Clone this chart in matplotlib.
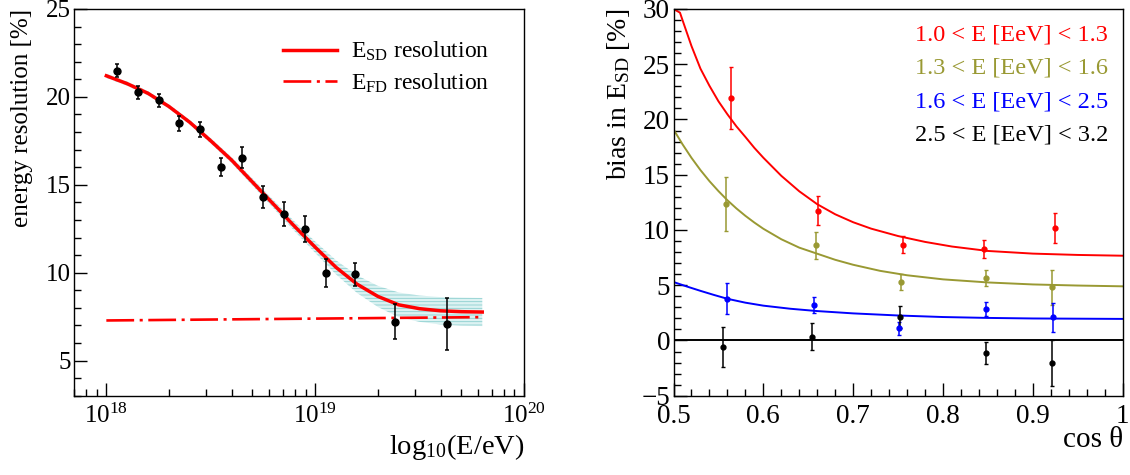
import numpy as np
import matplotlib
matplotlib.use("Agg")
import matplotlib.pyplot as plt
import matplotlib.ticker as ticker

plt.rcParams['font.family'] = 'Liberation Serif'
plt.rcParams['mathtext.fontset'] = 'custom'
plt.rcParams['mathtext.rm'] = 'Liberation Serif'
plt.rcParams['mathtext.it'] = 'Liberation Serif:italic'
plt.rcParams['mathtext.bf'] = 'Liberation Serif:bold'
plt.rcParams['hatch.linewidth'] = 0.6
plt.rcParams['lines.scale_dashes'] = False

# --- panneau gauche : résolution en énergie ---
log_e_pts = [18.05, 18.15, 18.25, 18.35, 18.45, 18.55, 18.65, 18.75, 18.85, 18.95, 19.05, 19.19, 19.38, 19.63]
res_pts = [21.5, 20.25, 19.8, 18.5, 18.15, 16.0, 16.55, 14.3, 13.35, 12.5, 10.0, 9.9, 7.2, 7.1]
res_err = [0.38, 0.36, 0.38, 0.43, 0.44, 0.5, 0.58, 0.63, 0.68, 0.75, 0.8, 0.66, 1.0, 1.48]

log_e_fit = [18.0, 18.1, 18.2, 18.3, 18.4, 18.5, 18.6, 18.7, 18.8, 18.9,
             19.0, 19.1, 19.2, 19.3, 19.4, 19.5, 19.6, 19.7, 19.8]
sd_fit = [21.2, 20.75, 20.2, 19.45, 18.55, 17.5, 16.4, 15.15, 13.9, 12.65,
          11.45, 10.3, 9.35, 8.65, 8.17, 7.95, 7.83, 7.78, 7.76]
sd_band_lo = [21.08, 20.63, 20.08, 19.33, 18.42, 17.35, 16.23, 14.95, 13.67, 12.38,
              11.13, 9.9, 8.85, 8.05, 7.47, 7.2, 7.05, 6.98, 6.96]
sd_band_hi = [21.32, 20.87, 20.32, 19.57, 18.68, 17.65, 16.57, 15.35, 14.13, 12.92,
              11.77, 10.7, 9.85, 9.25, 8.87, 8.7, 8.61, 8.58, 8.56]
log_e_fd = [18.0, 19.8]
fd_fit = [7.28, 7.47]

# --- panneau droit : biais en fonction de cos theta ---
bins = ["1.0 < E [EeV] < 1.3", "1.3 < E [EeV] < 1.6", "1.6 < E [EeV] < 2.5", "2.5 < E [EeV] < 3.2"]
colors = ['#ff0000', '#999933', '#0000ff', '#000000']

cos_red = [0.564, 0.661, 0.7555, 0.846, 0.9245]
bias_red = [21.97, 11.75, 8.67, 8.25, 10.18]
err_red = [2.8, 1.28, 0.77, 0.8, 1.4]
cos_olive = [0.558, 0.659, 0.7533, 0.8477, 0.921]
bias_olive = [12.35, 8.61, 5.29, 5.66, 4.81]
err_olive = [2.4, 1.2, 0.7, 0.75, 1.6]
cos_blue = [0.559, 0.656, 0.7515, 0.8477, 0.9227]
bias_blue = [3.78, 3.21, 1.1, 2.82, 2.1]
err_blue = [1.4, 0.75, 0.6, 0.65, 1.3]
cos_black = [0.5553, 0.6545, 0.7526, 0.8477, 0.9209]
bias_black = [-0.56, 0.35, 2.1, -1.16, -2.06]
err_black = [1.8, 1.2, 1.0, 1.0, 2.1]

fit_cos_red = [0.5, 0.5072, 0.51, 0.52, 0.53, 0.54, 0.55, 0.56, 0.57, 0.58, 0.59, 0.60,
               0.62, 0.64, 0.66, 0.68, 0.70, 0.72, 0.75, 0.78, 0.81, 0.85, 0.90, 0.95, 1.0]
fit_red = [30.0, 29.67, 29.0, 26.65, 24.6, 23.05, 21.65, 20.47, 19.38, 18.42, 17.43, 16.54,
           14.9, 13.5, 12.33, 11.42, 10.7, 10.12, 9.45, 8.92, 8.5, 8.1, 7.86, 7.74, 7.67]
fit_cos_olive = [0.5, 0.51, 0.52, 0.53, 0.54, 0.55, 0.56, 0.57, 0.58, 0.59, 0.60,
                 0.62, 0.64, 0.66, 0.68, 0.70, 0.73, 0.76, 0.80, 0.85, 0.90, 0.95, 1.0]
fit_olive = [19.1, 17.76, 16.53, 15.42, 14.42, 13.52, 12.69, 11.95, 11.28, 10.67, 10.11,
             9.16, 8.4, 7.85, 7.3, 6.85, 6.3, 5.9, 5.53, 5.25, 5.07, 4.97, 4.9]
fit_cos_blue = [0.5, 0.515, 0.53, 0.545, 0.56, 0.58, 0.60, 0.63, 0.66, 0.70, 0.75, 0.80, 0.85, 0.90, 1.0]
fit_blue = [5.29, 4.88, 4.49, 4.12, 3.77, 3.42, 3.15, 2.87, 2.66, 2.45, 2.26, 2.12, 2.04, 1.99, 1.95]
fit_cos_black = [0.5, 1.0]
fit_black = [0.0, 0.0]

fig = plt.figure(figsize=(11.3, 4.75), dpi=100)
ax1 = fig.add_axes([0.06549, 0.16695, 0.39823, 0.81411])
ax2 = fig.add_axes([0.59602, 0.16695, 0.39752, 0.81411])

def style_axis(ax, size):
    ax.tick_params(which='both', direction='in', top=False, right=False, labelsize=size, width=1)
    ax.tick_params(which='major', length=9.5)
    ax.tick_params(which='minor', length=5)
    ax.tick_params(axis='y', pad=2.5)
    ax.tick_params(axis='x', pad=6)
    for s in ax.spines.values():
        s.set_linewidth(1)

# gauche
e_pts = np.power(10.0, log_e_pts)
e_fit = np.power(10.0, log_e_fit)
e_fd = np.power(10.0, log_e_fd)
ax1.fill_between(e_fit, sd_band_lo, sd_band_hi, facecolor='#dcf2f2', edgecolor='#8ccfcf',
                 hatch='-----', linewidth=0, zorder=1)
ax1.plot(e_fd, fd_fit, color='#ff0000', lw=1.9, dashes=(20, 4, 2.2, 4), zorder=2,
         label='E$_{\\mathrm{FD}}$ resolution')
ax1.plot(e_fit, sd_fit, color='#ff0000', lw=2.5, zorder=3, label='E$_{\\mathrm{SD}}$ resolution')
ax1.errorbar(e_pts, res_pts, yerr=res_err, fmt='o', color='black', ms=5, elinewidth=1.1,
             capsize=1.1, capthick=1.1, zorder=4)
ax1.set_xscale('log')
ax1.set_xlim(7e17, 1e20)
ax1.set_ylim(3, 25)
ax1.yaxis.set_major_locator(ticker.MultipleLocator(5))
ax1.yaxis.set_minor_locator(ticker.MultipleLocator(1))
ax1.xaxis.set_major_locator(ticker.LogLocator(base=10, numticks=10))
ax1.xaxis.set_minor_locator(ticker.LogLocator(base=10, subs=np.arange(2, 10), numticks=20))
ax1.xaxis.set_minor_formatter(ticker.NullFormatter())
style_axis(ax1, 18)
ax1.set_ylabel('energy resolution [%]', fontsize=18, loc='top')
ax1.yaxis.set_label_coords(-0.091, 1.0)
ax1.set_xlabel('log$_{10}$(E/eV)', fontsize=20.5, loc='right')
ax1.xaxis.set_label_coords(1.0, -0.094)
h, l = ax1.get_legend_handles_labels()
ax1.legend([h[1], h[0]], [l[1], l[0]], loc='upper left', bbox_to_anchor=(0.464, 0.92),
           frameon=False, fontsize=17, handlelength=2.3, handletextpad=0.6,
           borderpad=0, borderaxespad=0, labelspacing=0.35)

# droit
series = [(cos_red, bias_red, err_red, fit_cos_red, fit_red),
          (cos_olive, bias_olive, err_olive, fit_cos_olive, fit_olive),
          (cos_blue, bias_blue, err_blue, fit_cos_blue, fit_blue),
          (cos_black, bias_black, err_black, fit_cos_black, fit_black)]
for (cx, cy, ce, fx, fy), c in zip(series, colors):
    ax2.plot(fx, fy, color=c, lw=1.4, zorder=2)
    ax2.errorbar(cx, cy, yerr=ce, fmt='o', color=c, ms=3.5, elinewidth=1.1,
                 capsize=1.1, capthick=1.0, zorder=3)
ax2.set_xlim(0.5, 1.0)
ax2.set_ylim(-5, 30)
ax2.xaxis.set_major_locator(ticker.MultipleLocator(0.1))
ax2.xaxis.set_minor_locator(ticker.MultipleLocator(0.02))
ax2.xaxis.set_major_formatter(ticker.FormatStrFormatter('%g'))
ax2.yaxis.set_major_locator(ticker.MultipleLocator(5))
ax2.yaxis.set_minor_locator(ticker.MultipleLocator(1))
style_axis(ax2, 19.5)
ax2.set_ylabel('bias in E$_{\\mathrm{SD}}$ [%]', fontsize=20, loc='top')
ax2.yaxis.set_label_coords(-0.092, 1.0)
ax2.set_xlabel('cos θ', fontsize=21, loc='right')
ax2.xaxis.set_label_coords(1.0, -0.08)

text_y = [0.933, 0.847, 0.760, 0.674]
for txt, c, ty in zip(bins, colors, text_y):
    ax2.text(0.967, ty, txt, color=c, fontsize=17.5, ha='right', va='center', transform=ax2.transAxes)

fig.savefig('out.png', dpi=100)
